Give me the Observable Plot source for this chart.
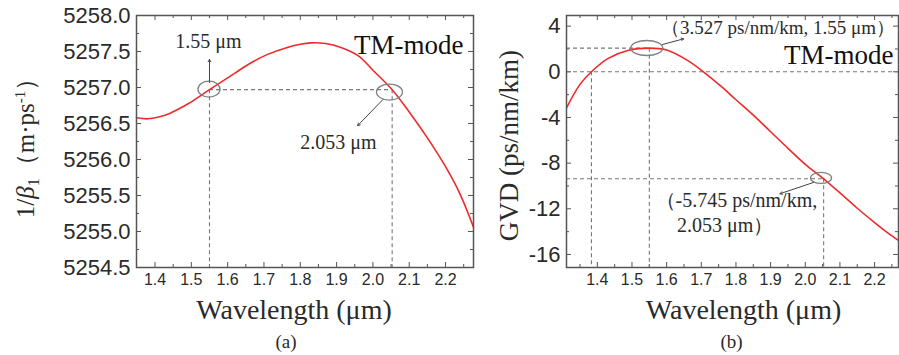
<!DOCTYPE html>
<html><head><meta charset="utf-8">
<script src="https://cdn.jsdelivr.net/npm/d3@7"></script>
<script src="https://cdn.jsdelivr.net/npm/@observablehq/plot@0.6"></script>
<style>
body{margin:0;background:#fff;}
#wrap{position:relative;width:899px;height:355px;overflow:hidden;background:#fff;}
#wrap svg{position:absolute;top:0;}
</style></head><body><div id="wrap"></div>
<script>
// ---- Data ----
const wavelengthA = [1.349,1.38,1.41,1.44,1.49,1.55,1.62,1.66,1.71,1.76,1.80,1.83,1.87,1.91,1.96,2.00,2.053,2.10,2.15,2.20,2.24,2.277];
const invBeta1   = [5256.58,5256.565,5256.59,5256.64,5256.77,5256.97,5257.20,5257.33,5257.46,5257.55,5257.60,5257.62,5257.61,5257.56,5257.44,5257.24,5256.97,5256.66,5256.30,5255.90,5255.52,5255.06];
const wavelengthB = [1.311,1.35,1.383,1.43,1.49,1.55,1.60,1.66,1.706,1.76,1.80,1.85,1.90,1.95,2.00,2.053,2.10,2.15,2.20,2.24,2.269];
const gvd        = [-3.15,-1.1,0,1.15,1.88,2.07,1.90,1.00,0,-1.35,-2.45,-3.8,-5.25,-6.7,-8.1,-9.37,-10.6,-11.95,-13.2,-14.15,-14.77];

const xTicks = [1.4,1.5,1.6,1.7,1.8,1.9,2.0,2.1,2.2];
const xMinorTicks = [1.35,1.45,1.55,1.65,1.75,1.85,1.95,2.05,2.15,2.25];
const yTicksA = [5254.5,5255.0,5255.5,5256.0,5256.5,5257.0,5257.5,5258.0];
const yMinorTicksA = [5254.75,5255.25,5255.75,5256.25,5256.75,5257.25,5257.75];
const yTicksB = [-16,-12,-8,-4,0,4];
const yMinorTicksB = [-14,-10,-6,-2,2];

// marked points
const pointsA = [{x:1.55, y:5256.97}, {x:2.053, y:5256.97}];
const pointsB = [{x:1.55, y:2.07}, {x:2.053, y:-9.37}, {x:1.383, y:0}];
const labelsA = ["1.55 μm", "2.053 μm"];
const labelsB = ["（3.527 ps/nm/km, 1.55 μm）", "（-5.745 ps/nm/km,", "2.053 μm）"];

const RED = "#ee2a2a", DASH = "#777", TXT = "#2a2a2a";
const SERIF = "'Liberation Serif', 'Times New Roman', serif";
const SANS = "'Liberation Sans', Arial, sans-serif";
const fmt1 = d3.format(".1f");

function inDomain(vals, dom) { return vals.filter(v => v > dom[0] + 0.004 && v < dom[1] - 0.004); }

function frameTicks(xs, ys, len, W, H) {
  const o = {stroke: "#555", strokeWidth: 1};
  return [
    Plot.tickX(xs, {x: d => d, insetTop: H - len, ...o}),
    Plot.tickX(xs, {x: d => d, insetBottom: H - len, ...o}),
    Plot.tickY(ys, {y: d => d, insetRight: W - len, ...o}),
    Plot.tickY(ys, {y: d => d, insetLeft: W - len, ...o})
  ];
}

function ellipseMark(p, rx, ry) {
  return (index, scales) => {
    const g = d3.create("svg:g");
    g.append("ellipse")
      .attr("cx", scales.x(p.x)).attr("cy", scales.y(p.y))
      .attr("rx", rx).attr("ry", ry)
      .attr("fill", "none").attr("stroke", "#808080").attr("stroke-width", 1.3);
    return g.node();
  };
}

const wrap = document.getElementById("wrap");

// ---------- Panel (a) ----------
{
  const W = 480, H = 355, mL = 136, mR = 7, mT = 15, mB = 88;
  const xd = [1.349, 2.277], yd = [5254.5, 5258.0];
  const iw = W - mL - mR, ih = H - mT - mB;
  const dataA = wavelengthA.map((x, i) => ({x, y: invBeta1[i]}));
  const svg = Plot.plot({
    width: W, height: H, marginLeft: mL, marginRight: mR, marginTop: mT, marginBottom: mB,
    x: {domain: xd}, y: {domain: yd},
    style: {fontFamily: SANS, color: TXT, background: "white", overflow: "visible"},
    marks: [
      Plot.axisX({ticks: xTicks, tickSize: 0, tickPadding: 6, tickFormat: fmt1, fontSize: 16, label: null}),
      Plot.axisY({ticks: yTicksA, tickSize: 0, tickPadding: 6, tickFormat: fmt1, fontSize: 22, label: null}),
      ...frameTicks(inDomain(xTicks, xd), inDomain(yTicksA, yd), 5, iw, ih),
      ...frameTicks(inDomain(xMinorTicks, xd), inDomain(yMinorTicksA, yd), 3, iw, ih),
      Plot.ruleY([pointsA[0].y], {x1: pointsA[0].x, x2: pointsA[1].x, stroke: DASH, strokeDasharray: "4,3", strokeWidth: 1.1}),
      Plot.ruleX(pointsA, {x: "x", y1: "y", y2: yd[0], stroke: DASH, strokeDasharray: "4,3", strokeWidth: 1.1}),
      Plot.line(dataA, {x: "x", y: "y", stroke: RED, strokeWidth: 1.6, curve: "catmull-rom"}),
      ellipseMark(pointsA[0], 11, 8),
      ellipseMark({x: pointsA[1].x - 0.006, y: pointsA[1].y - 0.04}, 13, 8),
      Plot.arrow([{x1: 1.55, y1: 5257.07, x2: 1.55, y2: 5257.39}], {x1: "x1", y1: "y1", x2: "x2", y2: "y2", stroke: "#444", strokeWidth: 1, headLength: 4}),
      Plot.arrow([{x1: 2.027, y1: 5256.83, x2: 1.958, y2: 5256.47}], {x1: "x1", y1: "y1", x2: "x2", y2: "y2", stroke: "#444", strokeWidth: 1, headLength: 4}),
      Plot.text([labelsA[0]], {x: 1.456, y: 5257.55, text: d => d, textAnchor: "start", lineAnchor: "bottom", fontFamily: SERIF, fontSize: 20, fill: TXT}),
      Plot.text([labelsA[1]], {x: 1.80, y: 5256.15, text: d => d, textAnchor: "start", lineAnchor: "bottom", fontFamily: SERIF, fontSize: 20, fill: TXT}),
      Plot.text(["TM-mode"], {frameAnchor: "top-right", dx: -10, dy: 38, textAnchor: "end", lineAnchor: "bottom", fontFamily: SERIF, fontSize: 27, fill: "#111"}),
      Plot.text(["Wavelength (μm)"], {frameAnchor: "bottom", dx: -11, dy: 51, textAnchor: "middle", lineAnchor: "bottom", fontFamily: SERIF, fontSize: 28, fill: TXT}),
      Plot.text(["(a)"], {frameAnchor: "bottom", dx: -19, dy: 80, textAnchor: "middle", lineAnchor: "bottom", fontFamily: SERIF, fontSize: 19, fill: TXT}),
      Plot.frame({stroke: "#555", strokeWidth: 1.5})
    ]
  });
  svg.style.left = "0px";
  // rich y-axis title
  const t = d3.select(svg).append("text")
    .attr("transform", "translate(34,142) rotate(-90)")
    .attr("text-anchor", "middle")
    .attr("font-family", SERIF).attr("font-size", 25).attr("fill", TXT);
  t.append("tspan").text("1/");
  t.append("tspan").attr("font-style", "italic").text("β");
  t.append("tspan").attr("font-size", 16).attr("dy", 5).text("1");
  t.append("tspan").attr("dy", -5).text("（m·ps");
  t.append("tspan").attr("font-size", 15).attr("dy", -9).text("-1");
  t.append("tspan").attr("dy", 9).text("）");
  wrap.appendChild(svg);
}

// ---------- Panel (b) ----------
{
  const W = 419, H = 355, mL = 86, mR = 1, mT = 15, mB = 88;
  const xd = [1.311, 2.269], yd = [-17.14, 4.93];
  const iw = W - mL - mR, ih = H - mT - mB;
  const dataB = wavelengthB.map((x, i) => ({x, y: gvd[i]}));
  const svg = Plot.plot({
    width: W, height: H, marginLeft: mL, marginRight: mR, marginTop: mT, marginBottom: mB,
    x: {domain: xd}, y: {domain: yd},
    style: {fontFamily: SANS, color: TXT, background: "white", overflow: "visible"},
    marks: [
      Plot.axisX({ticks: xTicks, tickSize: 0, tickPadding: 6, tickFormat: fmt1, fontSize: 16, label: null}),
      Plot.axisY({ticks: yTicksB, tickSize: 0, tickPadding: 6, tickFormat: d => `${d}`, fontSize: 22, label: null}),
      ...frameTicks(inDomain(xTicks, xd), inDomain(yTicksB, yd), 5, iw, ih),
      ...frameTicks(inDomain(xMinorTicks, xd), inDomain(yMinorTicksB, yd), 3, iw, ih),
      Plot.ruleY([0], {stroke: DASH, strokeDasharray: "4,3", strokeWidth: 1.1}),
      Plot.ruleY([pointsB[0]], {y: "y", x1: xd[0], x2: "x", stroke: DASH, strokeDasharray: "4,3", strokeWidth: 1.1}),
      Plot.ruleY([pointsB[1]], {y: "y", x1: xd[0], x2: "x", stroke: DASH, strokeDasharray: "4,3", strokeWidth: 1.1}),
      Plot.ruleX(pointsB, {x: "x", y1: "y", y2: yd[0], stroke: DASH, strokeDasharray: "4,3", strokeWidth: 1.1}),
      Plot.line(dataB, {x: "x", y: "y", stroke: RED, strokeWidth: 1.6, curve: "catmull-rom"}),
      ellipseMark({x: 1.544, y: 2.04}, 16, 7.5),
      ellipseMark({x: 2.047, y: -9.34}, 10.5, 5.5),
      Plot.arrow([{x1: 1.588, y1: 2.39, x2: 1.649, y2: 2.89}], {x1: "x1", y1: "y1", x2: "x2", y2: "y2", stroke: "#444", strokeWidth: 1, headLength: 4}),
      Plot.arrow([{x1: 2.024, y1: -9.69, x2: 1.927, y2: -10.68}], {x1: "x1", y1: "y1", x2: "x2", y2: "y2", stroke: "#444", strokeWidth: 1, headLength: 4}),
      Plot.text([labelsB[0]], {x: 1.584, y: 3.35, text: d => d, textAnchor: "start", lineAnchor: "bottom", fontFamily: SERIF, fontSize: 19, fill: TXT}),
      Plot.text([labelsB[1]], {x: 1.568, y: -11.86, text: d => d, textAnchor: "start", lineAnchor: "bottom", fontFamily: SERIF, fontSize: 20, fill: TXT}),
      Plot.text([labelsB[2]], {x: 1.630, y: -14.05, text: d => d, textAnchor: "start", lineAnchor: "bottom", fontFamily: SERIF, fontSize: 20, fill: TXT}),
      Plot.text(["TM-mode"], {frameAnchor: "top-right", dx: -5, dy: 48, textAnchor: "end", lineAnchor: "bottom", fontFamily: SERIF, fontSize: 27, fill: "#111"}),
      Plot.text(["GVD (ps/nm/km)"], {frameAnchor: "left", dx: -49, dy: 4, rotate: -90, textAnchor: "middle", lineAnchor: "bottom", fontFamily: SERIF, fontSize: 27, fill: TXT}),
      Plot.text(["Wavelength (μm)"], {frameAnchor: "bottom", dx: 11, dy: 51, textAnchor: "middle", lineAnchor: "bottom", fontFamily: SERIF, fontSize: 28, fill: TXT}),
      Plot.text(["(b)"], {frameAnchor: "bottom", dx: -1, dy: 80, textAnchor: "middle", lineAnchor: "bottom", fontFamily: SERIF, fontSize: 19, fill: TXT}),
      Plot.frame({stroke: "#555", strokeWidth: 1.5})
    ]
  });
  svg.style.left = "480px";
  wrap.appendChild(svg);
}
</script></body></html>
